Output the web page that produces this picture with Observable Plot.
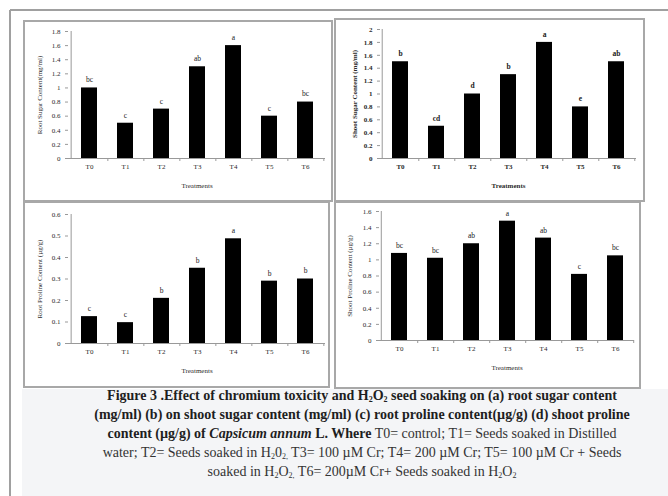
<!DOCTYPE html>
<html><head><meta charset="utf-8">
<script src="https://cdn.jsdelivr.net/npm/d3@7"></script>
<script src="https://cdn.jsdelivr.net/npm/@observablehq/plot@0.6"></script>
<style>
body{margin:0;width:668px;height:496px;overflow:hidden;background:#fff;position:relative;font-family:"Liberation Serif",serif;}
.abs{position:absolute}
.box{position:absolute;border:2px solid #a8a8a8;box-sizing:border-box}
#cap{position:absolute;left:27px;top:386px;width:670px;text-align:center;font-size:14px;line-height:19px;color:#333;font-family:"Liberation Serif",serif}
#cap b{color:#1e1e1e}
#cap sub{font-size:8px;vertical-align:-2px;line-height:0}
</style></head><body>
<div class="abs" style="left:10px;top:9px;width:658px;height:2px;background:#a0a0a0"></div>
<div class="abs" style="left:9px;top:10px;width:2px;height:486px;background:#a0a0a0"></div>
<div class="abs" style="left:22px;top:389px;width:646px;height:107px;background:#f4f5f7"></div>
<div id="panels"></div>
<div id="cap">
<b>Figure 3 .Effect of chromium toxicity and H<sub>2</sub>O<sub>2</sub> seed soaking on (a) root sugar content</b><br>
<b>(mg/ml) (b) on shoot sugar content (mg/ml) (c) root proline content(µg/g) (d) shoot proline</b><br>
<b>content (µg/g) of <i>Capsicum annum</i> L. Where</b> T0= control; T1= Seeds soaked in Distilled<br>
water; T2= Seeds soaked in H<sub>2</sub>0<sub>2,</sub> T3= 100 µM Cr; T4= 200 µM Cr; T5= 100 µM Cr + Seeds<br>
soaked in H<sub>2</sub>O<sub>2,</sub> T6= 200µM Cr+ Seeds soaked in H<sub>2</sub>O<sub>2</sub>
</div>
<script>
const categories = ["T0","T1","T2","T3","T4","T5","T6"];
const rootSugar = [1.0,0.5,0.7,1.3,1.6,0.6,0.8];
const rootSugarLetters = ["bc","c","c","ab","a","c","bc"];
const shootSugar = [1.5,0.5,1.0,1.3,1.8,0.8,1.5];
const shootSugarLetters = ["b","cd","d","b","a","e","ab"];
const rootProline = [0.125,0.097,0.21,0.35,0.487,0.29,0.30];
const rootProlineLetters = ["c","c","b","b","a","b","b"];
const shootProline = [1.08,1.02,1.2,1.48,1.27,0.82,1.05];
const shootProlineLetters = ["bc","bc","ab","a","ab","c","bc"];
const ticksRootSugar = [0,0.2,0.4,0.6,0.8,1,1.2,1.4,1.6,1.8];
const ticksShootSugar = [0,0.2,0.4,0.6,0.8,1,1.2,1.4,1.6,1.8,2];
const ticksRootProline = [0,0.1,0.2,0.3,0.4,0.5,0.6];
const ticksShootProline = [0,0.2,0.4,0.6,0.8,1,1.2,1.4,1.6];
const xTitle = "Treatments";

function panel(o){
  const data = categories.map((c,i)=>({cat:c, v:o.values[i], lab:o.letters[i]}));
  const innerW = o.w - o.ml - o.mr, innerH = o.h - o.mt - o.mb;
  const step = innerW / categories.length;
  const max = o.ticks[o.ticks.length-1];
  const tickLen = 3 * max / innerH;
  const fw = o.bold ? "bold" : "normal";
  const svg = Plot.plot({
    width:o.w, height:o.h, marginLeft:o.ml, marginRight:o.mr, marginTop:o.mt, marginBottom:o.mb,
    style:{fontFamily:'"Liberation Serif", serif', fontSize:"7px", background:"#fff", color:"#2a2a2a", fontWeight:fw, overflow:"visible"},
    x:{domain:categories, paddingInner:0.56, paddingOuter:0.28, axis:null},
    y:{domain:[0,max], axis:null},
    marks:[
      Plot.barY(data,{x:"cat",y:"v",fill:"#000"}),
      Plot.ruleY([0],{stroke:"#999"}),
      Plot.ruleX([categories[0]],{x:d=>d, dx:-step/2, y1:0, y2:max, stroke:"#999"}),
      Plot.ruleX(categories,{x:d=>d, dx:step/2, y1:0, y2:-tickLen, stroke:"#999"}),
      Plot.axisY({ticks:o.ticks, tickSize:3, tickPadding:5, tickFormat:d=>String(+d.toFixed(2)), stroke:"#999", fill:"#2a2a2a", label:null}),
      Plot.axisX({tickSize:0, tickPadding:6, fill:"#2a2a2a", label:null}),
      Plot.text(data,{x:"cat",y:"v",text:"lab",dy:-8, fill:"#1a1a1a", fontSize:7.5}),
      Plot.text([xTitle],{text:d=>d, frameAnchor:"bottom", dy:29, fill:"#2a2a2a"}),
      Plot.text([o.yLabel],{text:d=>d, frameAnchor:"left", rotate:-90, dx:o.titleDx, textAnchor:"middle", fill:"#2a2a2a"})
    ]
  });
  const box = document.createElement("div");
  box.className = "box";
  Object.assign(box.style,{left:o.bx+"px", top:o.by+"px", width:o.bw+"px", height:o.bh+"px"});
  svg.style.position = "absolute";
  svg.style.left = (o.bx+2)+"px";
  svg.style.top = (o.by+2)+"px";
  const host = document.getElementById("panels");
  host.appendChild(svg);
  host.appendChild(box);
}

panel({values:rootSugar, letters:rootSugarLetters, ticks:ticksRootSugar, yLabel:"Root Sugar Content(mg/ml)",
  bx:23, by:20, bw:310, bh:182, w:306, h:178, ml:43, mr:6, mt:9, mb:42, titleDx:-29, bold:false});
panel({values:shootSugar, letters:shootSugarLetters, ticks:ticksShootSugar, yLabel:"Shoot Sugar Content (mg/ml)",
  bx:334, by:18, bw:311, bh:184, w:307, h:180, ml:44, mr:7, mt:9, mb:42, titleDx:-26, bold:true});
panel({values:rootProline, letters:rootProlineLetters, ticks:ticksRootProline, yLabel:"Root Proline Content (µg/g)",
  bx:23, by:201, bw:307, bh:187, w:303, h:183, ml:43, mr:3, mt:11, mb:43, titleDx:-29, bold:false});
panel({values:shootProline, letters:shootProlineLetters, ticks:ticksShootProline, yLabel:"Shoot Proline Content (µg/g)",
  bx:334, by:201, bw:307, bh:188, w:303, h:184, ml:43, mr:5, mt:8, mb:47, titleDx:-30, bold:false});
</script>
</body></html>
